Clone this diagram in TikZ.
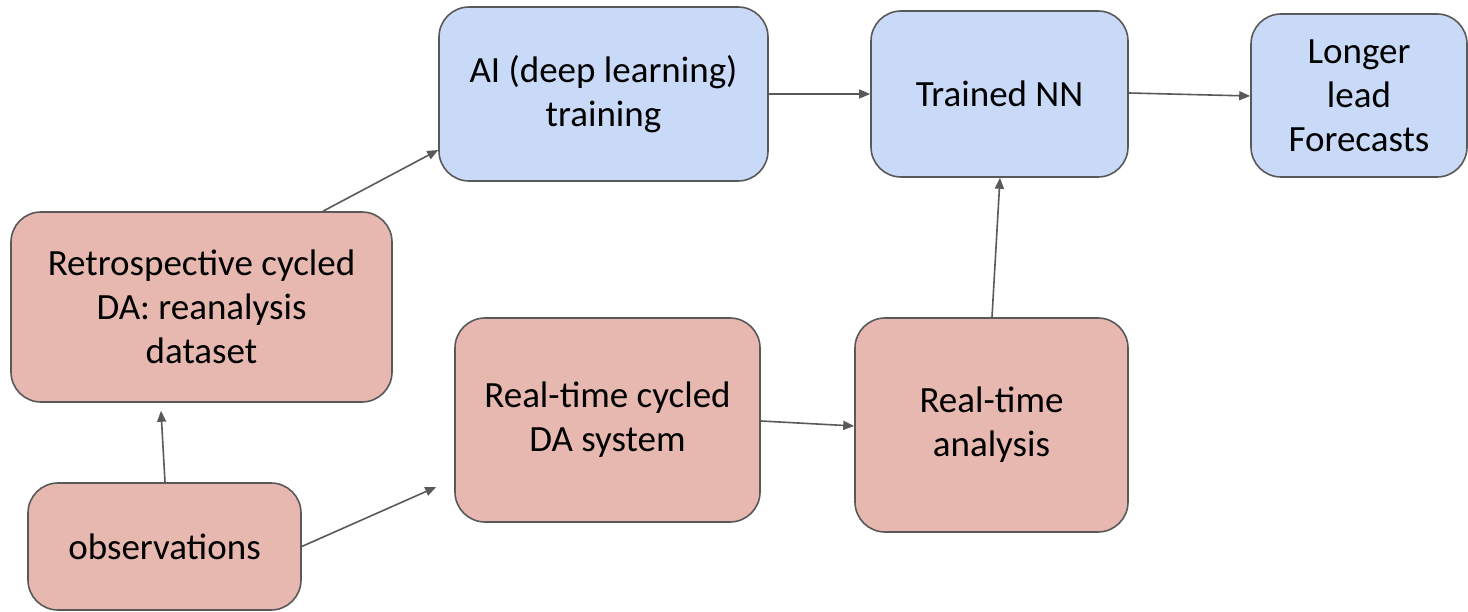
\documentclass[tikz,border=0pt]{standalone}
\usepackage{fontspec}
\setmainfont{Carlito}
\usetikzlibrary{arrows.meta,calc}
\definecolor{boxblue}{HTML}{C9DAF8}
\definecolor{boxpink}{HTML}{E6B8AF}
\definecolor{edgegray}{HTML}{595959}
\tikzset{
  stage/.style={draw=edgegray, line width=1.6pt, rounded corners=30pt,
    align=center, inner sep=0pt, font=\fontsize{37}{44}\selectfont},
  bluebox/.style={stage, fill=boxblue},
  pinkbox/.style={stage, fill=boxpink},
  link/.style={draw=edgegray, line width=1.6pt,
    -{Triangle[length=11pt,width=9pt]}}
}
\begin{document}
\begin{tikzpicture}[x=1pt,y=-1pt]
\useasboundingbox (0,0) rectangle (1468,612);
% training chain
\node[bluebox, minimum width=329pt, minimum height=174pt] (ai) at (603.5,94)
  {AI (deep learning)\\training};
\node[bluebox, minimum width=257pt, minimum height=166pt] (nn) at (999.5,94)
  {Trained NN};
\node[bluebox, minimum width=216pt, minimum height=163pt] (lf) at (1359,95.5)
  {Longer\\lead\\Forecasts};
% assimilation chain
\node[pinkbox, minimum width=381pt, minimum height=190pt] (retro) at (201.5,307)
  {Retrospective cycled\\DA: reanalysis\\dataset};
\node[pinkbox, minimum width=305pt, minimum height=204pt] (rtda) at (607.5,420)
  {Real-time cycled\\DA system};
\node[pinkbox, minimum width=273pt, minimum height=214pt] (rta) at (991.5,425)
  {Real-time\\analysis};
\node[pinkbox, minimum width=273pt, minimum height=127pt] (obs) at (164.5,546.5)
  {observations};
% connectors
\draw[link] (ai.east) -- (nn.west);
\draw[link] ($(nn.east)+(0,-1)$) -- ($(lf.west)+(0,0.5)$);
\draw[link] ($(retro.north)+(121.5,0)$) -- ($(ai.west)+(0,56)$);
\draw[link] ($(obs.north)+(0.5,0)$) -- ($(retro.south)+(-40.5,8)$);
\draw[link] (obs.east) -- ($(rtda.west)+(-18,67)$);
\draw[link] ($(rtda.east)+(0,1)$) -- ($(rta.west)+(0,1)$);
\draw[link] ($(rta.north)+(0.5,0)$) -- ($(nn.south)+(0.5,0)$);
\end{tikzpicture}
\end{document}
